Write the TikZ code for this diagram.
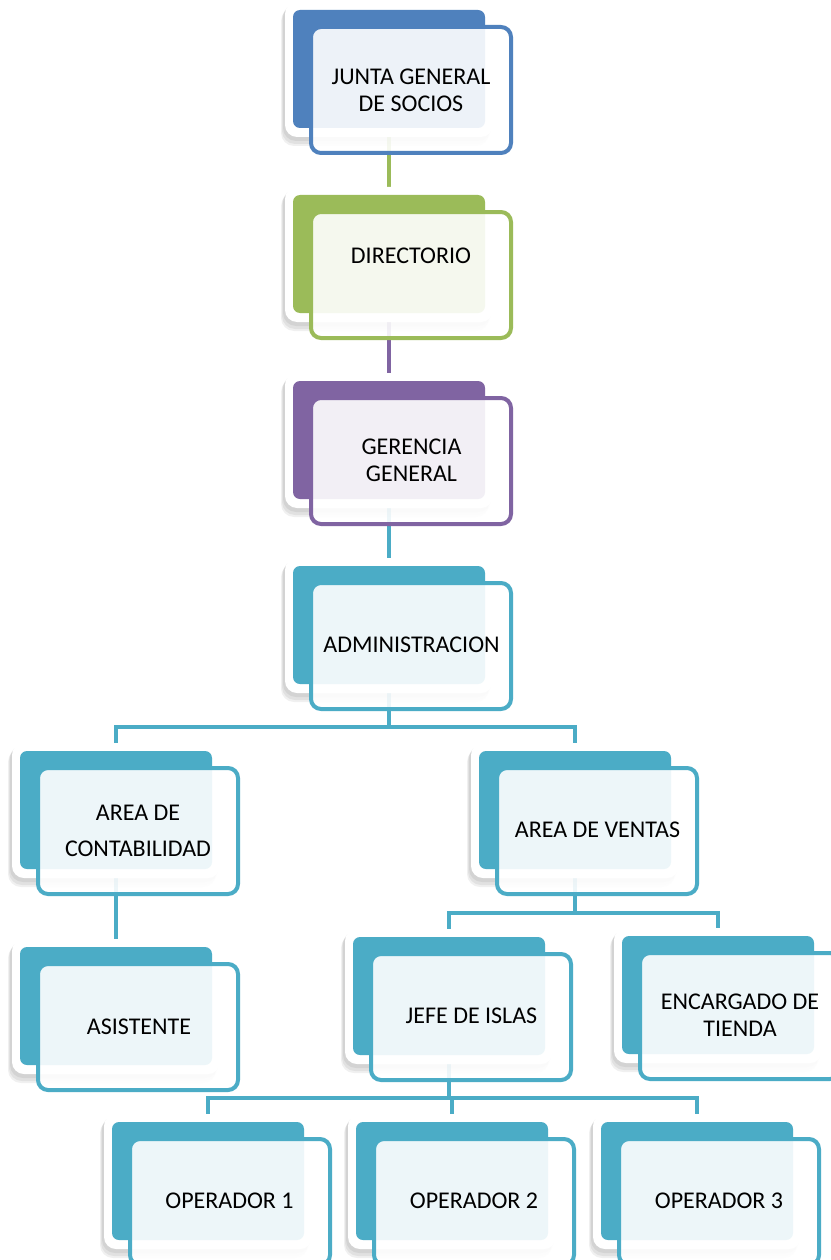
\documentclass[tikz,border=0pt]{standalone}
\usepackage{fontspec}
\setmainfont{Carlito}
\definecolor{cblue}{HTML}{4F81BD}
\definecolor{cgreen}{HTML}{9BBB59}
\definecolor{cpurple}{HTML}{8064A2}
\definecolor{cteal}{HTML}{4BACC6}
\pgfdeclarelayer{bglayer}
\pgfdeclarelayer{connlayer}
\pgfsetlayers{bglayer,connlayer,main}
\tikzset{
  conn/.style={line width=4pt},
  shade1/.style={fill=black, opacity=.06, rounded corners=13pt},
  card/.style={fill=white, rounded corners=12pt, minimum width=208pt, minimum height=135pt, inner sep=0pt, outer sep=0pt},
  backbox/.style={fill=#1, rounded corners=7pt, minimum width=192pt, minimum height=118pt, inner sep=0pt, outer sep=0pt},
  frontbox/.style={draw=#1, line width=4pt, fill=white, fill opacity=.9, draw opacity=1, rounded corners=10pt, minimum width=200pt, minimum height=126pt, inner sep=0pt, outer sep=0pt},
  label/.style={inner sep=0pt, align=center, text=black, font=\fontsize{24pt}{27pt}\selectfont},
}
% #1 name, #2 colour, #3 x of back box, #4 y of back box
\newcommand\orgunit[4]{%
  \begin{scope}[shift={(#3,#4)}]
    \fill[shade1] (-12,-2) rectangle (196,136);
    \fill[shade1] (-11,-4) rectangle (197,134);
    \fill[shade1] (-10,-6) rectangle (198,131);
    \node[card] (#1) at (96,59.5) {};
    \node[backbox=#2] (#1-b) at (96,59) {};
    \node[frontbox=#2] (#1-f) at (118,80) {};
  \end{scope}}
\begin{document}
\begin{tikzpicture}[x=1pt,y=-1pt]
\begin{pgfonlayer}{bglayer}
  \fill[white] (0,0) rectangle (830,1260);
\end{pgfonlayer}
\useasboundingbox (0,0) rectangle (830,1260);

\orgunit{jg}{cblue}{293}{10}
\orgunit{dir}{cgreen}{293}{195}
\orgunit{ger}{cpurple}{293}{381}
\orgunit{adm}{cteal}{293}{566}
\orgunit{cont}{cteal}{20}{751}
\orgunit{ven}{cteal}{479}{751}
\orgunit{asis}{cteal}{20}{947}
\orgunit{jefe}{cteal}{353}{937}
\orgunit{enc}{cteal}{622}{936}
\orgunit{op1}{cteal}{112}{1122}
\orgunit{op2}{cteal}{356}{1122}
\orgunit{op3}{cteal}{601}{1122}

\node[label] (jg-t) at (411,90) {JUNTA GENERAL\\DE SOCIOS};
\node[label] (dir-t) at (411,256) {DIRECTORIO};
\node[label] (ger-t) at (411.5,460) {GERENCIA\\GENERAL};
\node[label] (adm-t) at (411.5,645) {ADMINISTRACION};
\node[label, font=\fontsize{24pt}{36pt}\selectfont] (cont-t) at (138,831) {AREA DE\\CONTABILIDAD};
\node[label] (ven-t) at (597.5,830) {AREA DE VENTAS};
\node[label] (asis-t) at (139,1027) {ASISTENTE};
\node[label] (jefe-t) at (471.5,1016) {JEFE DE ISLAS};
\node[label] (enc-t) at (740,1015) {ENCARGADO DE\\TIENDA};
\node[label] (op1-t) at (229.5,1201) {OPERADOR 1};
\node[label] (op2-t) at (474,1201) {OPERADOR 2};
\node[label] (op3-t) at (719,1201) {OPERADOR 3};

\begin{pgfonlayer}{connlayer}
  \coordinate (bus1) at (389,727);
  \coordinate (bus2) at (575,913);
  \coordinate (bus3) at (449,1098);
  \draw[conn,cgreen] (jg.center) -- (dir.center);
  \draw[conn,cpurple] (dir.center) -- (ger.center);
  \draw[conn,cteal] (ger.center) -- (adm.center);
  \draw[conn,cteal] (adm.center) -- (bus1);
  \draw[conn,cteal] (cont.center) |- (bus1) -| (ven.center);
  \draw[conn,cteal] (cont.center) -- (asis.center);
  \draw[conn,cteal] (ven.center) -- (bus2);
  \draw[conn,cteal] (jefe.center) |- (bus2) -| (enc.center);
  \draw[conn,cteal] (jefe.center) -- (bus3);
  \draw[conn,cteal] (op1.center) |- (bus3) -| (op3.center);
  \draw[conn,cteal] (bus3 -| op2.center) -- (op2.center);
\end{pgfonlayer}
\end{tikzpicture}
\end{document}
